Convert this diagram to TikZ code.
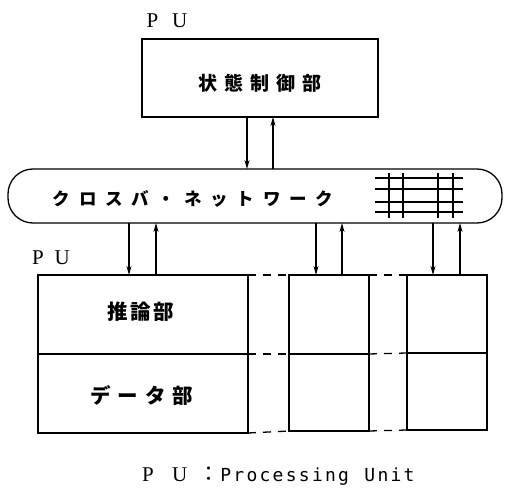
\documentclass[tikz,border=0pt]{standalone}
\usepackage{fontspec}
\setmainfont{Liberation Serif}
\newfontfamily\jp{Noto Sans CJK JP}
\newfontfamily\monof{DejaVu Sans Mono}
\usetikzlibrary{arrows.meta}
\makeatletter
\newcommand\spc[2]{\@tfor\spcx:=#2\do{\makebox[#1]{\spcx}}}
\makeatother
\begin{document}
\begin{tikzpicture}[x=1pt,y=-1pt,
  box/.style={draw, line width=1.3pt, inner sep=0pt, outer sep=0pt},
  arr/.style={-{Stealth[length=9pt,width=5pt]}, line width=1.2pt},
  dsh/.style={line width=1.3pt, dash pattern=on 8pt off 7pt},
  lbl/.style={inner sep=0pt, font=\fontsize{21}{21}\selectfont}]
\useasboundingbox (0,0) rectangle (507,489);

% top PU
\node[lbl] (pu0) at (167,21) {P\hspace{14pt}U};
\node[box, minimum width=236pt, minimum height=78pt] (cs) at (260,78) {};
\node[inner sep=0pt, font=\jp\bfseries\fontsize{19}{19}\selectfont] (cst) at (260,83) {\spc{26pt}{状態制御部}};

% bus
\node[box, rounded corners=25pt, minimum width=494pt, minimum height=54pt] (bus) at (255,196) {};
\node[inner sep=0pt, font=\jp\bfseries\fontsize{17.5}{17.5}\selectfont] (bust) at (193,199) {\spc{26.3pt}{クロスバ・ネットワーク}};
\foreach \yy in {178,189,202,212} \draw[line width=1.2pt] (375,\yy) -- (463,\yy);
\foreach \xx in {389,403,438,453} \draw[line width=1.2pt] (\xx,173) -- (\xx,218);

% PU boxes
\node[lbl] (pu1) at (51,258) {P\hspace{11pt}U};
\node[box, minimum width=210pt, minimum height=79pt] (a1) at (143,314.5) {};
\node[box, minimum width=210pt, minimum height=79pt] (b1) at (143,393.5) {};
\node[box, minimum width=80pt, minimum height=79pt] (a2) at (329,314.5) {};
\node[box, minimum width=80pt, minimum height=77pt] (b2) at (329,392.5) {};
\node[box, minimum width=80pt, minimum height=78pt] (a3) at (447,314) {};
\node[box, minimum width=80pt, minimum height=77pt] (b3) at (447,391.5) {};
\node[inner sep=0pt, font=\jp\bfseries\fontsize{20.5}{20.5}\selectfont] (inf) at (141,312) {\spc{23pt}{推論部}};
\node[inner sep=0pt, font=\jp\bfseries\fontsize{20.5}{20.5}\selectfont] (dat) at (142,395) {\spc{27.5pt}{データ部}};

% dashed continuations
\draw[dsh] (a1.north east) -- (a2.north west);
\draw[dsh] (a2.north east) -- (a3.north west);
\draw[dsh] (b1.north east) -- (b2.north west);
\draw[dsh] (b2.north east) -- (b3.north west);
\draw[dsh] (b1.south east) -- (b2.south west);
\draw[dsh] (b2.south east) -- (b3.south west);

% arrow x positions
\coordinate (x0d) at (247,0); \coordinate (x0u) at (273,0);
\coordinate (x1d) at (129,0); \coordinate (x1u) at (156,0);
\coordinate (x2d) at (316,0); \coordinate (x2u) at (342,0);
\coordinate (x3d) at (433,0); \coordinate (x3u) at (460,0);
\draw[arr] (cs.south -| x0d) -- (bus.north -| x0d);
\draw[arr] (bus.north -| x0u) -- (cs.south -| x0u);
\draw[arr] (bus.south -| x1d) -- (a1.north -| x1d);
\draw[arr] (a1.north -| x1u) -- (bus.south -| x1u);
\draw[arr] (bus.south -| x2d) -- (a2.north -| x2d);
\draw[arr] (a2.north -| x2u) -- (bus.south -| x2u);
\draw[arr] (bus.south -| x3d) -- (a3.north -| x3d);
\draw[arr] (a3.north -| x3u) -- (bus.south -| x3u);

% legend
\node[inner sep=0pt, anchor=west] (leg) at (142,476) {\fontsize{21}{21}\selectfont\makebox[30pt][l]{P}\makebox[26pt][l]{U}\makebox[21pt][l]{\jp ：}\monof\fontsize{18}{18}\selectfont\spc{13.1pt}{Processing}\hspace{13.1pt}\spc{13.1pt}{Unit}};
\end{tikzpicture}
\end{document}
